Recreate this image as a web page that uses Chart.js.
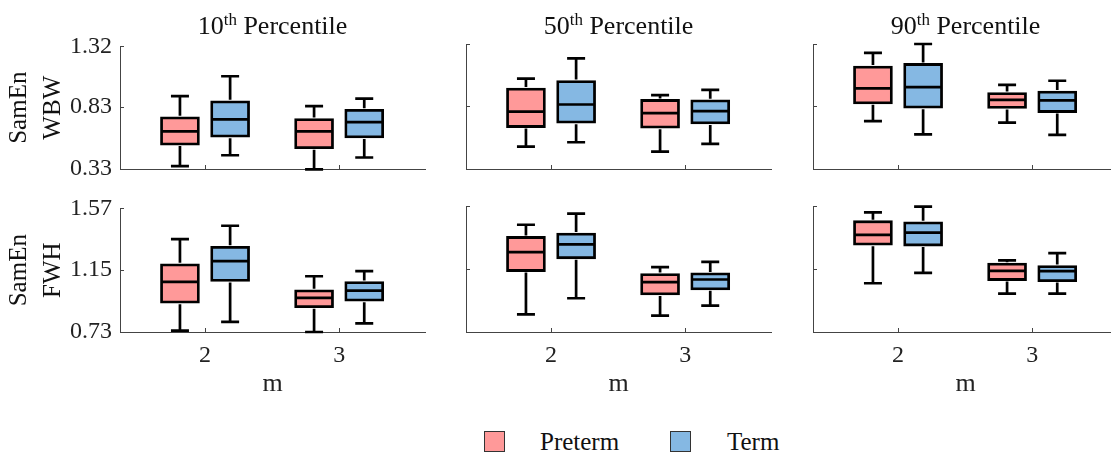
<!DOCTYPE html>
<html>
<head>
<meta charset="utf-8">
<script src="https://cdn.jsdelivr.net/npm/chart.js@4"></script>
<style>
  html, body { margin: 0; padding: 0; background: #fff; overflow: hidden; }
  #fig { position: relative; width: 1111px; height: 454px; font-family: "Liberation Serif", "Times New Roman", serif; color: #111; }
  #fig canvas { position: absolute; }
  .ttl { position: absolute; top: 13px; width: 305px; text-align: center; font-size: 26px; line-height: 26px; white-space: nowrap; }
  .ttl sup { font-size: 17px; vertical-align: 9px; line-height: 0; }
  .key { position: absolute; top: 431px; width: 19px; height: 19px; border: 1px solid #333; }
  .keytxt { position: absolute; top: 429px; font-size: 25px; line-height: 25px; }
</style>
</head>
<body>
<div id="fig"></div>
<script>
const mValues = [2, 3];
const groupNames = ['Preterm', 'Term'];
const percentiles = ['10', '50', '90'];
const featureNames = ['WBW', 'FWH'];
const wbwTicks = [0.33, 0.83, 1.32];
const fwhTicks = [0.73, 1.15, 1.57];

// [lower whisker, Q1, median, Q3, upper whisker] for m = 2 and m = 3
const wbwP10Preterm = [[0.354, 0.523, 0.634, 0.751, 0.918], [0.327, 0.494, 0.634, 0.738, 0.838]];
const wbwP10Term    = [[0.441, 0.587, 0.730, 0.881, 1.079], [0.423, 0.581, 0.709, 0.812, 0.899]];
const wbwP50Preterm = [[0.507, 0.658, 0.785, 0.971, 1.045], [0.468, 0.653, 0.772, 0.881, 0.915]];
const wbwP50Term    = [[0.542, 0.693, 0.841, 1.031, 1.206], [0.529, 0.687, 0.788, 0.878, 0.957]];
const wbwP90Preterm = [[0.709, 0.846, 0.968, 1.145, 1.249], [0.698, 0.809, 0.878, 0.936, 0.997]];
const wbwP90Term    = [[0.605, 0.812, 0.979, 1.166, 1.320], [0.600, 0.777, 0.873, 0.947, 1.029]];
const fwhP10Preterm = [[0.739, 0.926, 1.071, 1.193, 1.361], [0.730, 0.895, 0.962, 1.017, 1.109]];
const fwhP10Term    = [[0.799, 1.073, 1.211, 1.312, 1.452], [0.788, 0.939, 1.011, 1.073, 1.144]];
const fwhP50Preterm = [[0.848, 1.133, 1.263, 1.367, 1.445], [0.839, 0.977, 1.062, 1.120, 1.162]];
const fwhP50Term    = [[0.955, 1.218, 1.314, 1.390, 1.519], [0.906, 1.011, 1.080, 1.124, 1.198]];
const fwhP90Preterm = [[1.055, 1.309, 1.378, 1.472, 1.528], [0.986, 1.073, 1.138, 1.189, 1.207]];
const fwhP90Term    = [[1.124, 1.303, 1.392, 1.465, 1.566], [0.986, 1.066, 1.136, 1.173, 1.256]];

const panelData = [
  [[wbwP10Preterm, wbwP10Term], [wbwP50Preterm, wbwP50Term], [wbwP90Preterm, wbwP90Term]],
  [[fwhP10Preterm, fwhP10Term], [fwhP50Preterm, fwhP50Term], [fwhP90Preterm, fwhP90Term]]
];
const rowTicks = [wbwTicks, fwhTicks];

const colors = ['#ff9999', '#85b8e3'];
const axisColor = '#444';
const boxOffset = [-0.187, 0.187];
const xMin = 1.366, xMax = 3.64;

// layout of the 2x3 grid (pixels)
const colLeft = [120, 466, 813];
const rowTop = [44, 206];
const rowH = [125, 126];
const axW = 305;

Chart.defaults.font.family = '"Liberation Serif", "Times New Roman", serif';
Chart.defaults.color = '#222';

const boxWhiskers = {
  id: 'boxWhiskers',
  afterDatasetsDraw(chart) {
    const { ctx, scales: { y } } = chart;
    ctx.save();
    ctx.strokeStyle = '#000';
    ctx.lineWidth = 2.7;
    chart.data.datasets.forEach((ds, di) => {
      chart.getDatasetMeta(di).data.forEach((bar, i) => {
        const s = ds.stats[i];
        const cx = bar.x, hw = bar.width / 2 - 1, cap = 9;
        const yLo = y.getPixelForValue(s[0]), yQ1 = y.getPixelForValue(s[1]);
        const yMed = y.getPixelForValue(s[2]), yQ3 = y.getPixelForValue(s[3]);
        const yHi = y.getPixelForValue(s[4]);
        ctx.beginPath();
        ctx.moveTo(cx - hw, yMed); ctx.lineTo(cx + hw, yMed);
        ctx.moveTo(cx, yQ3 - 1); ctx.lineTo(cx, yHi);
        ctx.moveTo(cx - cap, yHi); ctx.lineTo(cx + cap, yHi);
        ctx.moveTo(cx, yQ1 + 1); ctx.lineTo(cx, yLo);
        ctx.moveTo(cx - cap, yLo); ctx.lineTo(cx + cap, yLo);
        ctx.stroke();
      });
    });
    ctx.restore();
  },
  afterDraw(chart) {
    // inward tick marks, MATLAB style
    const { ctx, chartArea, scales: { x, y } } = chart;
    ctx.save();
    ctx.strokeStyle = axisColor;
    ctx.lineWidth = 1;
    ctx.beginPath();
    y.ticks.forEach(t => {
      const py = Math.round(y.getPixelForValue(t.value)) + 0.5;
      ctx.moveTo(chartArea.left, py); ctx.lineTo(chartArea.left + 4, py);
    });
    x.ticks.forEach(t => {
      const px = Math.round(x.getPixelForValue(t.value)) + 0.5;
      ctx.moveTo(px, chartArea.bottom); ctx.lineTo(px, chartArea.bottom - 4);
    });
    ctx.stroke();
    ctx.restore();
  }
};

const fig = document.getElementById('fig');

function makePanel(r, c) {
  const first = c === 0, bottom = r === 1;
  const yw = first ? 120 : 3;
  const padTop = 20, padRight = 8;
  const xh = bottom ? 70 : 24;
  const cv = document.createElement('canvas');
  const w = yw + axW + padRight, h = padTop + rowH[r] + xh;
  cv.width = w; cv.height = h;
  cv.style.left = (colLeft[c] - yw) + 'px';
  cv.style.top = (rowTop[r] - padTop) + 'px';
  cv.style.width = w + 'px'; cv.style.height = h + 'px';
  fig.appendChild(cv);

  const datasets = groupNames.map((g, gi) => {
    const stats = panelData[r][c][gi];
    return {
      label: g,
      data: mValues.map((m, i) => ({ x: m + boxOffset[gi], y: [stats[i][1], stats[i][3]] })),
      stats: stats,
      backgroundColor: colors[gi],
      borderColor: '#000',
      borderWidth: 2.8,
      borderSkipped: false,
      barThickness: 39,
      grouped: false
    };
  });

  new Chart(cv, {
    type: 'bar',
    data: { datasets },
    options: {
      responsive: false,
      animation: false,
      events: [],
      layout: { padding: { top: padTop, right: padRight, left: 0, bottom: 0 } },
      plugins: { legend: { display: false }, tooltip: { enabled: false } },
      scales: {
        x: {
          type: 'linear',
          offset: false,
          min: xMin, max: xMax,
          afterBuildTicks: s => { s.ticks = mValues.map(v => ({ value: v })); },
          afterFit: s => { s.height = xh; },
          grid: { display: false, drawTicks: false },
          border: { color: axisColor, width: 1 },
          ticks: { display: bottom, font: { size: 24 }, padding: 9, callback: v => String(v) },
          title: { display: bottom, text: 'm', font: { size: 26 }, padding: { top: 0, bottom: 2 } }
        },
        y: {
          type: 'linear',
          min: rowTicks[r][0], max: rowTicks[r][2],
          afterBuildTicks: s => { s.ticks = rowTicks[r].map(v => ({ value: v })); },
          afterFit: s => { s.width = yw; },
          grid: { display: false, drawTicks: false },
          border: { color: axisColor, width: 1 },
          ticks: { display: first, font: { size: 24 }, padding: 8, callback: v => v.toFixed(2) },
          title: {
            display: first, text: ['SamEn', featureNames[r]],
            font: { size: 25, lineHeight: 1.35 }, color: '#111', padding: { top: 3, bottom: 0 }
          }
        }
      }
    },
    plugins: [boxWhiskers]
  });
}

for (let r = 0; r < 2; r++) for (let c = 0; c < 3; c++) makePanel(r, c);

percentiles.forEach((p, c) => {
  const d = document.createElement('div');
  d.className = 'ttl';
  d.style.left = colLeft[c] + 'px';
  d.innerHTML = p + '<sup>th</sup> Percentile';
  fig.appendChild(d);
});

const keyLeft = [484, 670], keyTextLeft = [540, 727];
groupNames.forEach((g, gi) => {
  const sq = document.createElement('div');
  sq.className = 'key';
  sq.style.left = keyLeft[gi] + 'px';
  sq.style.background = colors[gi];
  fig.appendChild(sq);
  const t = document.createElement('div');
  t.className = 'keytxt';
  t.style.left = keyTextLeft[gi] + 'px';
  t.textContent = g;
  fig.appendChild(t);
});
</script>
</body>
</html>
